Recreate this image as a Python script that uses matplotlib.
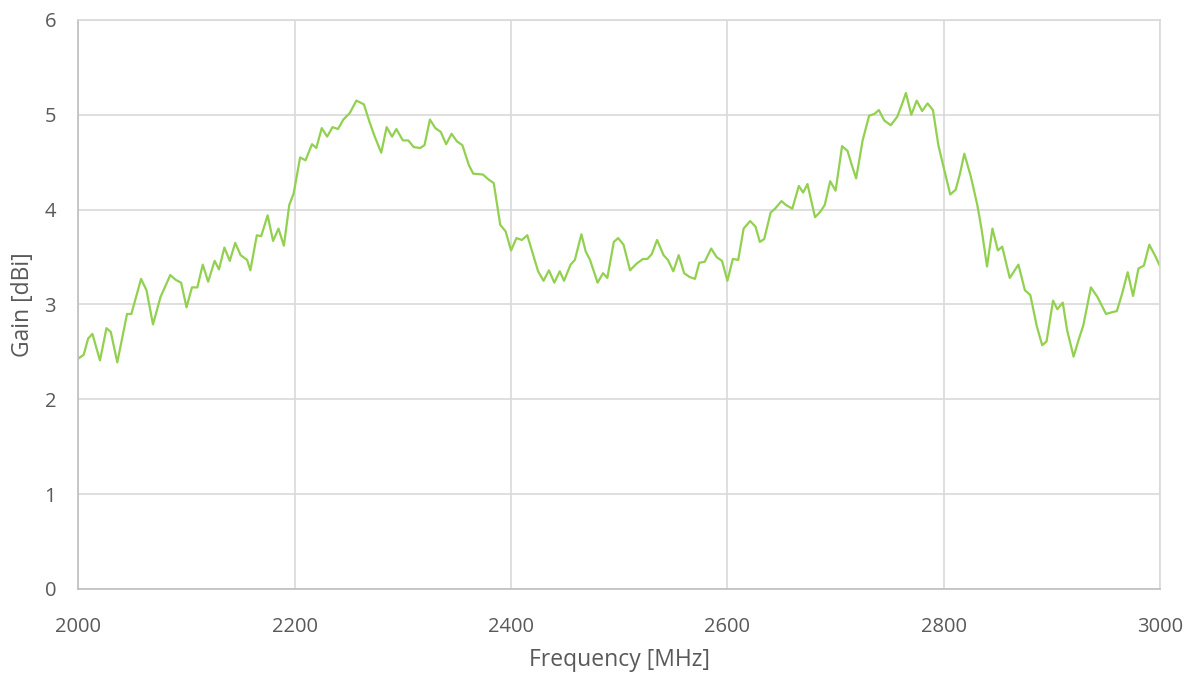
import numpy as np
import matplotlib
matplotlib.use('Agg')
import matplotlib.pyplot as plt

freq = [2000, 2005, 2009, 2013, 2020, 2026, 2030, 2036, 2045, 2049, 2058, 2063, 2069, 2076,
        2085, 2090, 2095, 2100, 2105, 2110, 2115, 2120, 2126, 2130, 2135, 2140, 2145, 2150,
        2156, 2159, 2165, 2169, 2175, 2180, 2185, 2190, 2195, 2199, 2205, 2210, 2216, 2220,
        2225, 2230, 2235, 2240, 2245, 2251, 2257, 2264, 2269, 2274, 2280, 2285, 2290, 2294,
        2300, 2305, 2310, 2316, 2320, 2325, 2330, 2335, 2340, 2345, 2350, 2355, 2361, 2365,
        2374, 2379, 2384, 2390, 2395, 2400, 2405, 2410, 2415, 2421, 2425, 2430, 2435, 2440,
        2445, 2449, 2455, 2459, 2465, 2469, 2473, 2480, 2485, 2489, 2495, 2499, 2504, 2510,
        2516, 2522, 2526, 2530, 2535, 2541, 2545, 2550, 2555, 2560, 2565, 2570, 2574, 2579,
        2585, 2590, 2595, 2600, 2605, 2610, 2615, 2621, 2626, 2630, 2634, 2640, 2644, 2650,
        2654, 2660, 2666, 2670, 2674, 2681, 2686, 2690, 2695, 2700, 2706, 2711, 2715, 2719,
        2725, 2731, 2736, 2740, 2745, 2751, 2757, 2761, 2765, 2770, 2775, 2780, 2785, 2790,
        2795, 2800, 2806, 2811, 2815, 2819, 2825, 2831, 2835, 2840, 2845, 2850, 2854, 2861,
        2869, 2875, 2880, 2886, 2891, 2895, 2901, 2905, 2910, 2914, 2920, 2925, 2929, 2936,
        2942, 2950, 2956, 2960, 2965, 2970, 2975, 2980, 2985, 2990, 2996, 3000]
gain = [2.43, 2.47, 2.64, 2.69, 2.41, 2.75, 2.71, 2.39, 2.90, 2.90, 3.27, 3.15, 2.79, 3.08,
        3.31, 3.26, 3.23, 2.97, 3.18, 3.18, 3.42, 3.24, 3.46, 3.37, 3.60, 3.46, 3.65, 3.52,
        3.47, 3.36, 3.73, 3.72, 3.94, 3.67, 3.80, 3.62, 4.05, 4.17, 4.55, 4.52, 4.69, 4.65,
        4.86, 4.77, 4.87, 4.85, 4.95, 5.02, 5.15, 5.11, 4.93, 4.77, 4.60, 4.87, 4.77, 4.85,
        4.73, 4.73, 4.66, 4.65, 4.68, 4.95, 4.86, 4.82, 4.69, 4.80, 4.72, 4.68, 4.47, 4.38,
        4.37, 4.32, 4.28, 3.84, 3.77, 3.57, 3.70, 3.68, 3.73, 3.50, 3.35, 3.25, 3.36, 3.23,
        3.35, 3.25, 3.42, 3.47, 3.74, 3.56, 3.47, 3.23, 3.33, 3.28, 3.66, 3.70, 3.63, 3.36,
        3.43, 3.48, 3.48, 3.53, 3.68, 3.52, 3.47, 3.35, 3.52, 3.33, 3.29, 3.27, 3.44, 3.45,
        3.59, 3.50, 3.46, 3.25, 3.48, 3.47, 3.80, 3.88, 3.82, 3.66, 3.69, 3.97, 4.01, 4.09,
        4.05, 4.01, 4.25, 4.18, 4.27, 3.92, 3.98, 4.05, 4.30, 4.20, 4.67, 4.62, 4.47, 4.33,
        4.73, 4.99, 5.01, 5.05, 4.94, 4.89, 4.98, 5.10, 5.23, 5.00, 5.15, 5.04, 5.12, 5.05,
        4.68, 4.44, 4.16, 4.21, 4.38, 4.59, 4.35, 4.05, 3.79, 3.40, 3.80, 3.57, 3.61, 3.28,
        3.42, 3.15, 3.10, 2.77, 2.57, 2.61, 3.04, 2.95, 3.02, 2.73, 2.45, 2.64, 2.78, 3.18,
        3.08, 2.90, 2.92, 2.93, 3.12, 3.34, 3.09, 3.38, 3.41, 3.63, 3.50, 3.40]

xticks = [2000, 2200, 2400, 2600, 2800, 3000]
yticks = [0, 1, 2, 3, 4, 5, 6]

plt.rcParams['font.family'] = ['Open Sans', 'DejaVu Sans']
grid_col = '#d9d9d9'
txt_col = '#595959'

fig = plt.figure(figsize=(11.96, 6.77), dpi=100)
ax = fig.add_axes([0.0655, 0.130, 0.9045, 0.8405])

ax.plot(freq, gain, color='#92D050', lw=1.6, solid_joinstyle='round')

ax.set_xlim(2000, 3000)
ax.set_ylim(0, 6)
ax.set_xticks(xticks)
ax.set_yticks(yticks)
ax.grid(True, color=grid_col, lw=1.2)
ax.set_axisbelow(True)
for s in ax.spines.values():
    s.set_color(grid_col)
    s.set_linewidth(1.2)
ax.spines['left'].set_color('#bfbfbf')
ax.spines['bottom'].set_color('#bfbfbf')
ax.tick_params(length=0, labelsize=14.5, labelcolor=txt_col)
ax.tick_params(axis='y', pad=16)
ax.tick_params(axis='x', pad=20)

ax.set_xlabel('Frequency [MHz]', fontsize=16.5, color=txt_col, labelpad=8)
ax.set_ylabel('Gain [dBi]', fontsize=16.5, color=txt_col, labelpad=7)

fig.savefig('out.png', dpi=100)
